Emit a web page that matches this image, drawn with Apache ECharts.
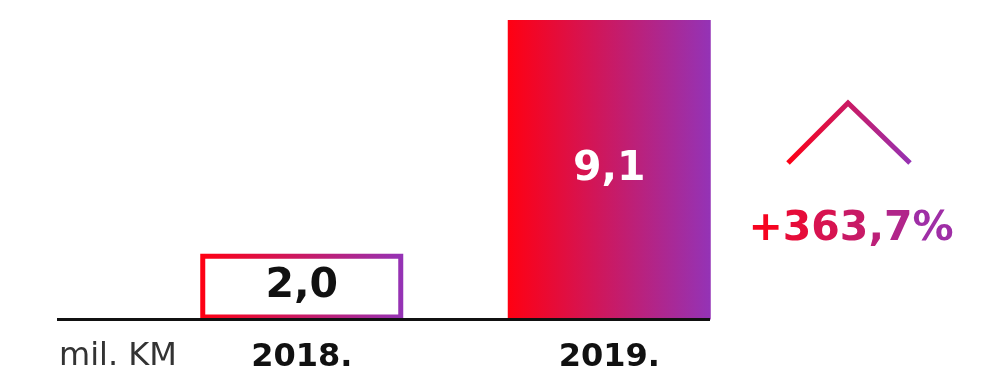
<!DOCTYPE html>
<html>
<head>
<meta charset="utf-8">
<script src="https://cdn.jsdelivr.net/npm/echarts@6/dist/echarts.min.js"></script>
<style>html,body{margin:0;padding:0;background:#fff;}#c{width:999px;height:376px;}</style>
</head>
<body>
<div id="c"></div>
<script>
const categories = ['2018.', '2019.'];
const values = [2.0, 9.1];
const valueLabels = ['2,0', '9,1'];
const unitLabel = 'mil. KM';
const changeLabel = '+363,7%';

const RED = [255, 0, 18];
const PURPLE = [148, 51, 182];
function hex(c) { return '#' + c.map(v => Math.round(v).toString(16).padStart(2, '0')).join(''); }
function mix(t) { return hex(RED.map((r, i) => r + (PURPLE[i] - r) * t)); }
function grad() {
  return new echarts.graphic.LinearGradient(0, 0, 1, 0, [
    { offset: 0, color: hex(RED) },
    { offset: 1, color: hex(PURPLE) }
  ]);
}

// gradient-like colouring of the change label, one colour per character
const tmpCanvas = document.createElement('canvas').getContext('2d');
tmpCanvas.font = 'bold 41px "DejaVu Sans"';
const totalW = tmpCanvas.measureText(changeLabel).width;
let acc = 0;
const rich = {};
let richText = '';
Array.from(changeLabel).forEach((ch, i) => {
  const w = tmpCanvas.measureText(ch).width;
  const t = (acc + w / 2) / totalW;
  acc += w;
  rich['c' + i] = {
    fill: mix(t), fontFamily: 'DejaVu Sans', fontWeight: 'bold', fontSize: 41
  };
  richText += '{c' + i + '|' + ch + '}';
});

const chart = echarts.init(document.getElementById('c'), null, { renderer: 'canvas' });
chart.setOption({
  animation: false,
  backgroundColor: '#fff',
  grid: { left: 148, right: 236, top: 20, bottom: 56.5 },
  xAxis: {
    type: 'category',
    data: categories,
    axisLine: { show: false },
    axisTick: { show: false },
    axisLabel: {
      margin: 22,
      fontFamily: 'DejaVu Sans',
      fontWeight: 'bold',
      fontSize: 32,
      color: '#111'
    }
  },
  yAxis: {
    type: 'value',
    min: 0,
    max: 9.1,
    show: false,
    splitLine: { show: false }
  },
  series: [{
    type: 'bar',
    barWidth: 203,
    data: values.map((v, i) => ({
      value: v,
      itemStyle: i === 0
        ? { color: '#fff', borderColor: grad(), borderWidth: 5 }
        : { color: grad(), borderWidth: 0 },
      label: {
        show: true,
        position: 'inside',
        formatter: valueLabels[i],
        fontFamily: 'DejaVu Sans',
        fontWeight: 'bold',
        fontSize: 41,
        color: i === 0 ? '#111' : '#fff'
      }
    }))
  }],
  graphic: [
    {
      type: 'line',
      shape: { x1: 57, y1: 319.5, x2: 710, y2: 319.5 },
      style: { stroke: '#111', lineWidth: 3 },
      z: 10
    },
    {
      type: 'text',
      left: 59,
      top: 341,
      style: {
        text: unitLabel,
        fontFamily: 'DejaVu Sans',
        fontSize: 32,
        fill: '#333'
      }
    },
    {
      type: 'polyline',
      shape: { points: [[788, 163], [848, 103], [910, 163]] },
      style: { stroke: grad(), lineWidth: 5, fill: null }
    },
    {
      type: 'text',
      x: 851,
      y: 229,
      style: {
        text: richText,
        rich: rich,
        fontFamily: 'DejaVu Sans',
        fontWeight: 'bold',
        fontSize: 41,
        align: 'center',
        verticalAlign: 'middle'
      }
    }
  ]
});
</script>
</body>
</html>
